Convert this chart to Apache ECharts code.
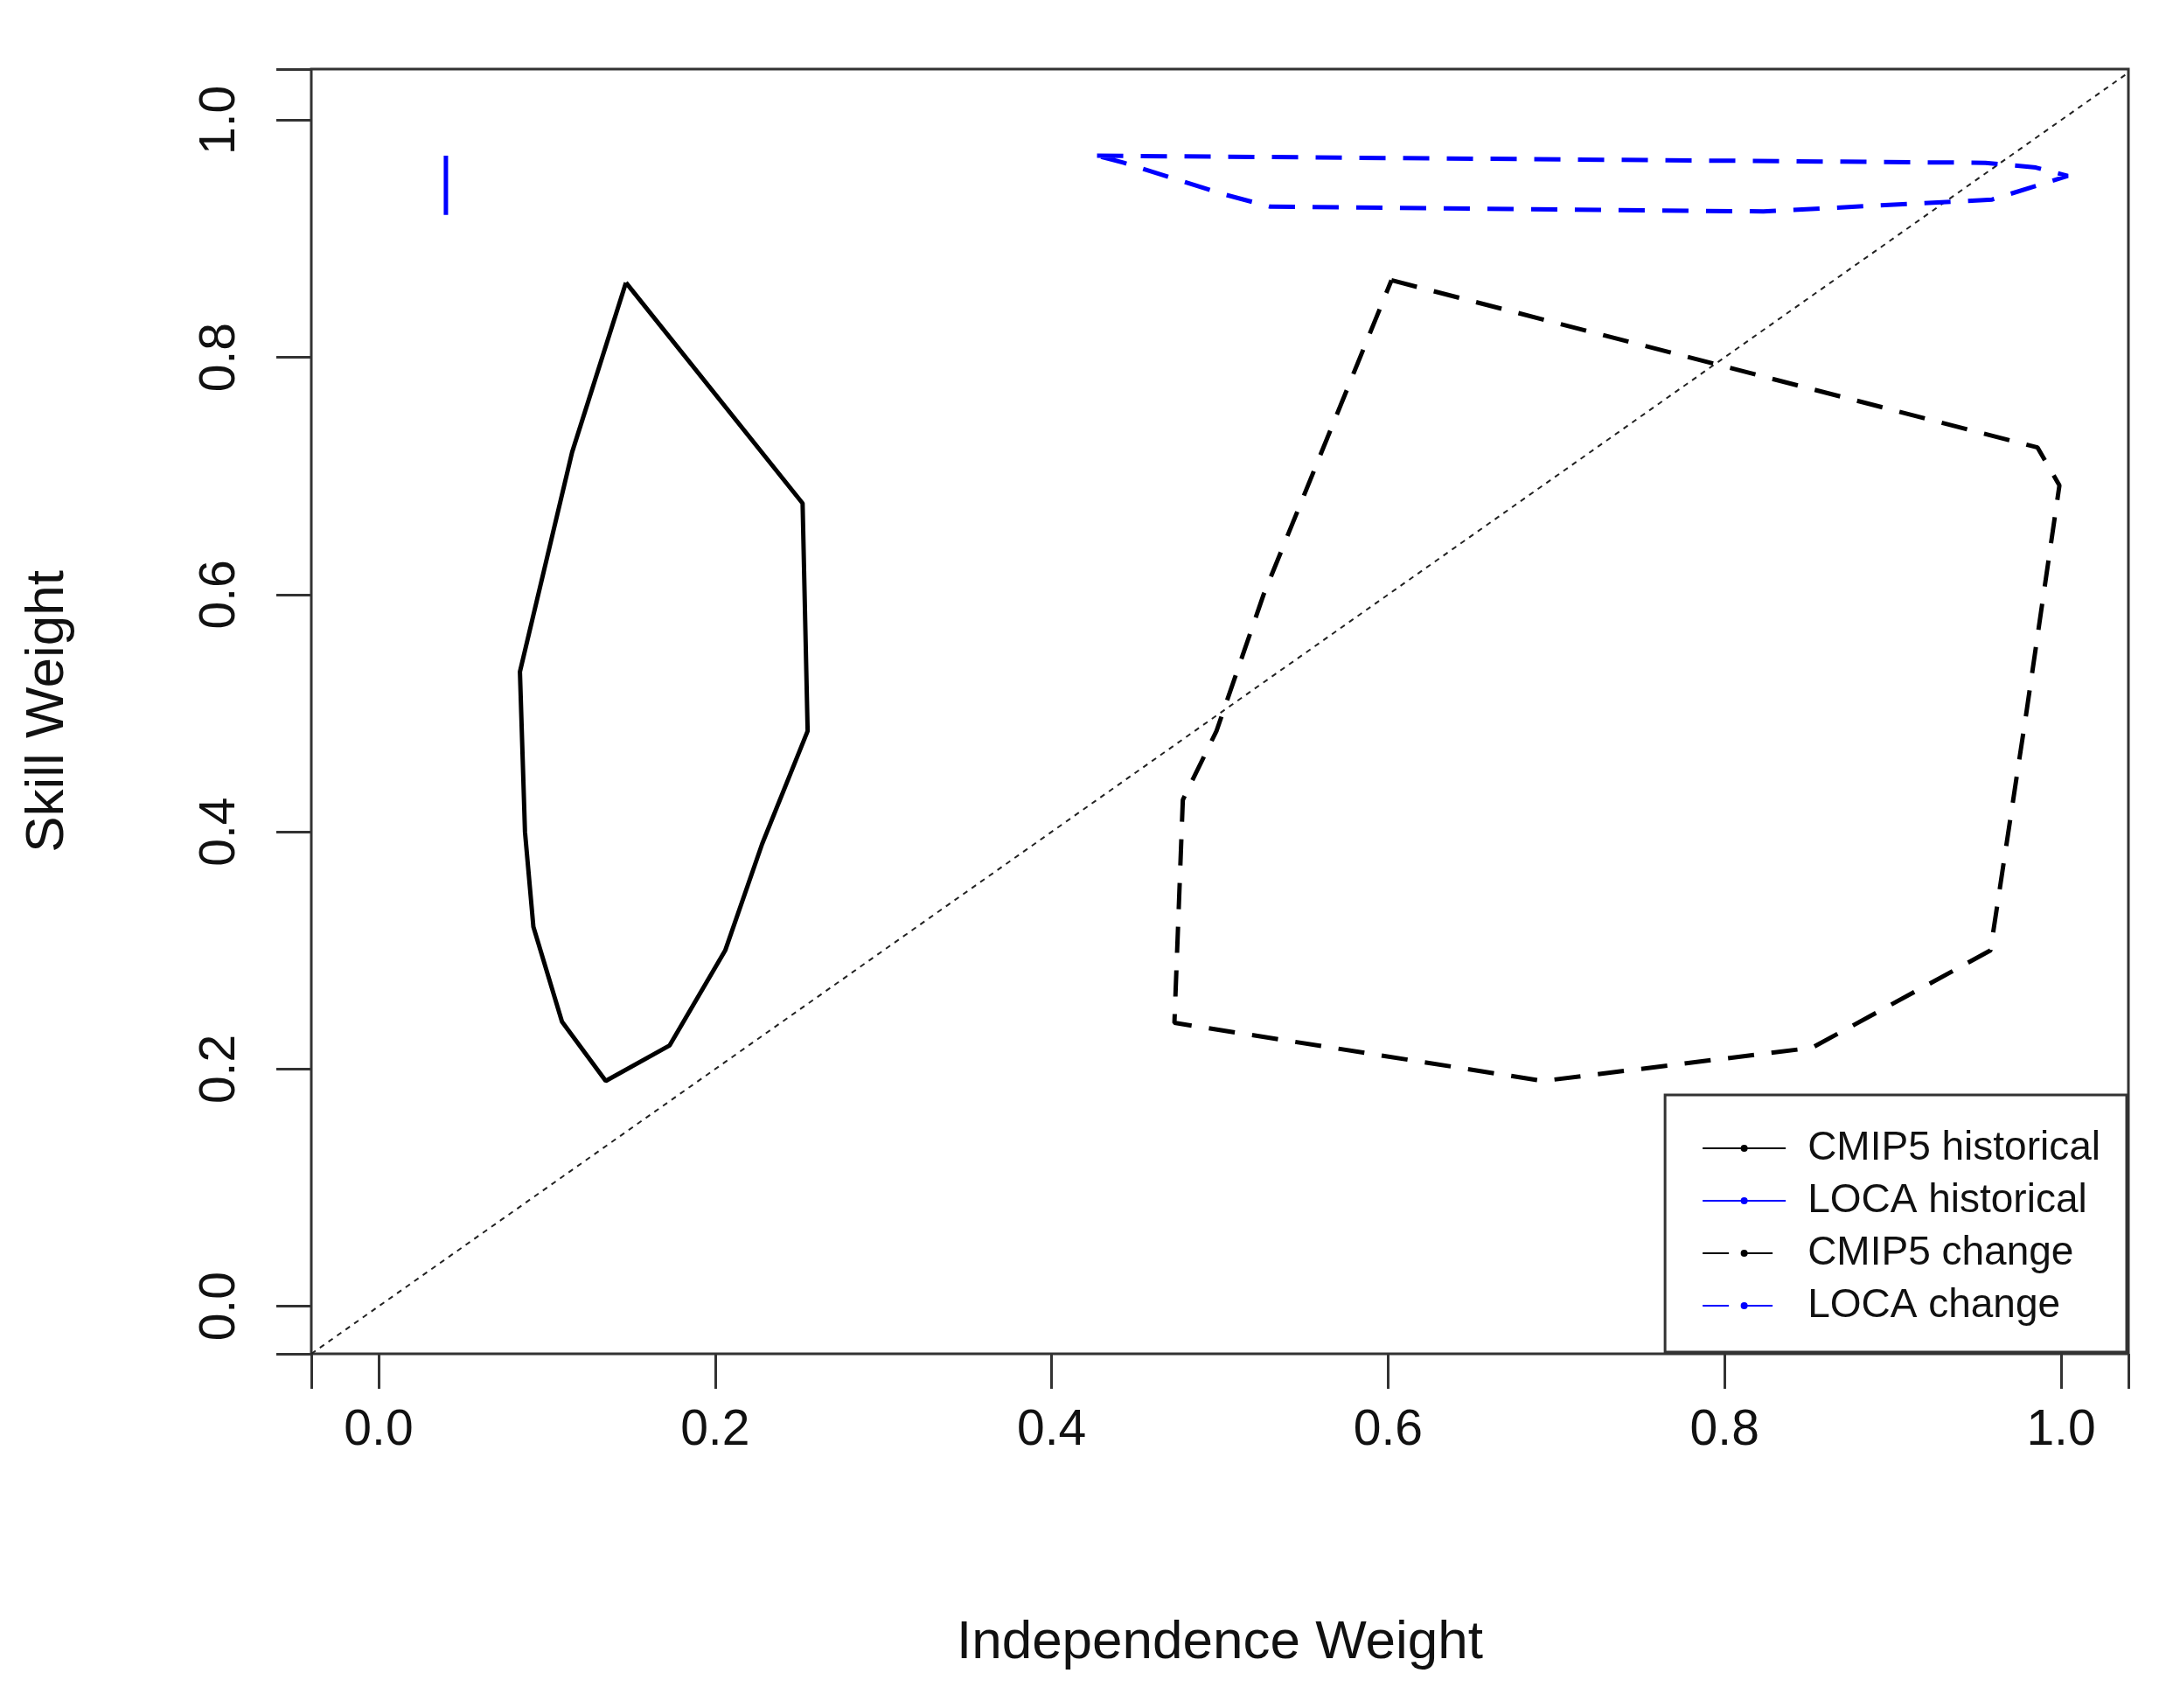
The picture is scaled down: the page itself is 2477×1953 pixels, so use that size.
<!DOCTYPE html>
<html><head><meta charset="utf-8">
<script src="https://cdn.jsdelivr.net/npm/echarts@6/dist/echarts.min.js"></script>
<style>html,body{margin:0;padding:0;background:#fff}#c{width:2477px;height:1953px}</style>
</head><body><div id="c"></div>
<script>
// 数据 (independence weight, skill weight)
var cmip5Hist = [[0.147,0.863],[0.252,0.677],[0.255,0.485],[0.228,0.39],[0.206,0.30],[0.173,0.22],[0.135,0.19],[0.109,0.24],[0.092,0.32],[0.087,0.40],[0.084,0.535],[0.115,0.72],[0.147,0.863]];
var locaHist = [[0.040,0.920],[0.040,0.970]];
var cmip5Change = [[0.602,0.865],[0.986,0.724],[0.999,0.692],[0.979,0.497],[0.958,0.30],[0.852,0.218],[0.692,0.19],[0.473,0.239],[0.478,0.427],[0.498,0.485],[0.526,0.60],[0.602,0.865]];
var locaChange = [[0.427,0.970],[0.955,0.964],[0.985,0.960],[1.004,0.953],[0.959,0.933],[0.823,0.923],[0.530,0.927],[0.501,0.938],[0.443,0.964],[0.427,0.970]];
var diagLine = [[-0.04,-0.04],[1.04,1.04]];
var ticks = [0,0.2,0.4,0.6,0.8,1.0];

var chart = echarts.init(document.getElementById('c'));
var font = 'Liberation Sans';
function ln(name, data, color, type){
    return {name:name, type:'line', data:data, symbol:'none', animation:false, color:color,
        itemStyle:{color:color},
        lineStyle:{color:color, width:5, type:type}};
}
var axisCommon = {
    type:'value', splitLine:{show:false},
    axisLine:{show:false, onZero:false},
    axisTick:{show:true, inside:false, length:40, lineStyle:{color:'#333', width:3}},
    customValues:ticks
};
chart.setOption({
    backgroundColor:'#fff',
    grid:{left:356, right:43, top:79, bottom:405, show:true, borderColor:'#333', borderWidth:3},
    legend:{right:45, bottom:407, orient:'vertical', itemWidth:95, itemHeight:10, itemGap:14,
        padding:[38,30,30,42], borderColor:'#333', borderWidth:3, backgroundColor:'#fff',
        textStyle:{fontFamily:font, fontSize:46, color:'#111', padding:[0,0,0,20]},
        data:['CMIP5 historical','LOCA historical','CMIP5 change','LOCA change']},
    xAxis:echarts.util.merge({min:-0.04, max:1.04,
        axisLabel:{fontFamily:font, fontSize:57, color:'#111', margin:60, customValues:ticks, formatter:function(v){return v.toFixed(1);}},
        name:'Independence Weight', nameLocation:'middle', nameGap:300,
        nameTextStyle:{fontFamily:font, fontSize:62, color:'#111'}}, axisCommon),
    yAxis:echarts.util.merge({min:-0.04, max:1.043,
        axisLabel:{fontFamily:font, fontSize:57, color:'#111', rotate:90, margin:75, customValues:ticks, formatter:function(v){return v.toFixed(1);}},
        name:'Skill Weight', nameLocation:'middle', nameGap:270,
        nameTextStyle:{fontFamily:font, fontSize:62, color:'#111'}}, axisCommon),
    series:[
        {type:'line', data:diagLine, symbol:'none', silent:true, animation:false,
            lineStyle:{color:'#222', width:2, type:[6,6]}},
        ln('CMIP5 historical', cmip5Hist, '#000', 'solid'),
        ln('LOCA historical', locaHist, '#0000ff', 'solid'),
        ln('CMIP5 change', cmip5Change, '#000', [30,20]),
        ln('LOCA change', locaChange, '#0000ff', [30,20])
    ]
});
window.onresize = function(){ chart.resize(); };
</script></body></html>
